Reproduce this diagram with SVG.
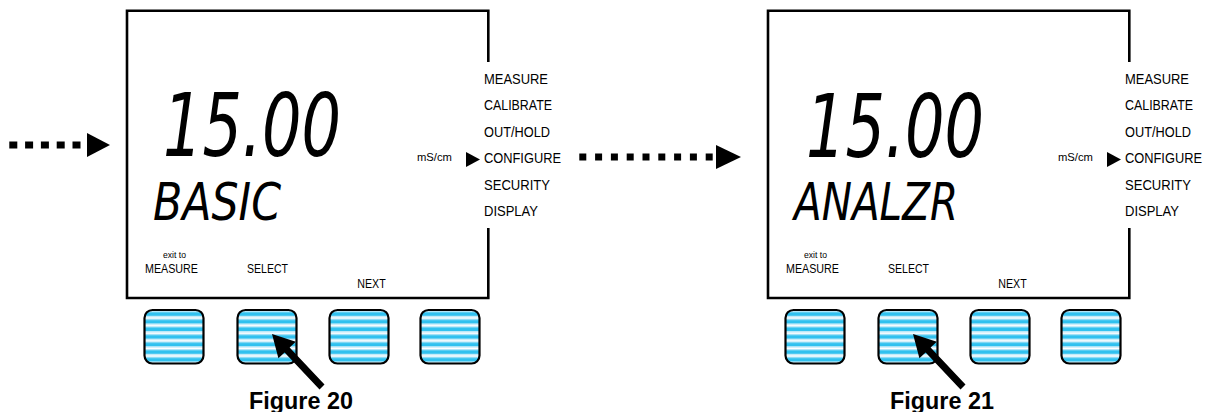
<svg xmlns="http://www.w3.org/2000/svg" width="1206" height="412" viewBox="0 0 1206 412">
  <style>
    .frame { fill: none; stroke: #000; stroke-width: 2.6; }
    .label { font-family: "Liberation Sans", Arial, sans-serif; fill: #000; }
    .menu { font-size: 15px; }
    .key { font-size: 13px; }
    .tiny { font-size: 9px; }
    .unit { font-size: 11px; }
    .lcd { font-family: "DejaVu Sans", "Liberation Sans", sans-serif; font-style: italic; fill: #000; }
    .caption { font-family: "Liberation Sans", Arial, sans-serif; font-weight: bold; font-size: 23px; fill: #000; }
    .btn { fill: url(#stripes); stroke: #000; stroke-width: 2.2; }
    .dots { fill: none; stroke: #000; stroke-width: 7; }
  </style>
  <defs>
    <!-- horizontal blue/white banding for the soft keys -->
    <pattern id="stripes" patternUnits="userSpaceOnUse" x="0" y="311" width="10" height="7.6">
      <rect width="10" height="7.6" fill="#ffffff"/>
      <rect y="0" width="10" height="1.2" fill="#b5e6f8"/>
      <rect y="1.2" width="10" height="3.8" fill="#30c1ef"/>
      <rect y="5" width="10" height="1.2" fill="#b5e6f8"/>
    </pattern>
    <!-- pointer arrow aimed at the SELECT key -->
    <polygon id="pointer" points="272,334 295.8,341.8 289.6,347.6 324.5,384.6 319.5,389.4 284.6,352.4 278.4,358.2" fill="#000"/>
  </defs>

  <!-- connectors -->
  <g id="connectors">
    <path class="dots" d="M9.3,145 H81" stroke-dasharray="8 7.8"/>
    <polygon points="87,133 87,157 110,145" fill="#000"/>
    <path class="dots" d="M579.3,157 H717" stroke-dasharray="7 8.8"/>
    <polygon points="716,145 716,169 741,157" fill="#000"/>
  </g>

  <!-- Figure 20 display -->
  <g id="fig20">
    <path class="frame" d="M488.3,62 V10.7 H127 V298 H488.3 V228"/>
    <text class="lcd" x="163" y="156" font-size="88" textLength="178" lengthAdjust="spacingAndGlyphs">15.00</text>
    <text class="lcd" x="153" y="220" font-size="52" textLength="128" lengthAdjust="spacingAndGlyphs">BASIC</text>
    <text class="label unit" x="417" y="161" textLength="35" lengthAdjust="spacingAndGlyphs">mS/cm</text>
    <polygon points="466,152 466,167 480,159.5" fill="#000"/>
    <!-- condensed menu column -->
    <g class="label menu" transform="translate(484,0) scale(0.85,1)">
      <text x="0" y="84" textLength="75.3" lengthAdjust="spacingAndGlyphs">MEASURE</text>
      <text x="0" y="110.5" textLength="80" lengthAdjust="spacingAndGlyphs">CALIBRATE</text>
      <text x="0" y="137" textLength="77.6" lengthAdjust="spacingAndGlyphs">OUT/HOLD</text>
      <text x="0" y="163.5" textLength="90.6" lengthAdjust="spacingAndGlyphs">CONFIGURE</text>
      <text x="0" y="190" textLength="77.6" lengthAdjust="spacingAndGlyphs">SECURITY</text>
      <text x="0" y="216.5" textLength="63.5" lengthAdjust="spacingAndGlyphs">DISPLAY</text>
    </g>
    <text class="label tiny" x="163" y="257.5" textLength="23" lengthAdjust="spacingAndGlyphs">exit to</text>
    <text class="label key" x="145" y="272.7" textLength="53" lengthAdjust="spacingAndGlyphs">MEASURE</text>
    <text class="label key" x="247" y="272.7" textLength="41" lengthAdjust="spacingAndGlyphs">SELECT</text>
    <text class="label key" x="357.3" y="288.3" textLength="28.4" lengthAdjust="spacingAndGlyphs">NEXT</text>
    <rect class="btn" x="144.5" y="310" width="59" height="53.5" rx="8"/>
    <rect class="btn" x="237.5" y="310" width="59" height="53.5" rx="8"/>
    <rect class="btn" x="329.5" y="310" width="59" height="53.5" rx="8"/>
    <rect class="btn" x="420.5" y="310" width="59" height="53.5" rx="8"/>
    <use href="#pointer"/>
    <text class="caption" x="249" y="409" textLength="104" lengthAdjust="spacingAndGlyphs">Figure 20</text>
  </g>

  <!-- Figure 21 display -->
  <g id="fig21" transform="translate(641,0)">
    <path class="frame" d="M488.3,62 V10.7 H127 V298 H488.3 V228"/>
    <text class="lcd" x="165" y="157" font-size="88" textLength="178" lengthAdjust="spacingAndGlyphs">15.00</text>
    <text class="lcd" x="153" y="220" font-size="52" textLength="164" lengthAdjust="spacingAndGlyphs">ANALZR</text>
    <text class="label unit" x="417" y="161" textLength="35" lengthAdjust="spacingAndGlyphs">mS/cm</text>
    <polygon points="466,152 466,167 480,159.5" fill="#000"/>
    <!-- condensed menu column -->
    <g class="label menu" transform="translate(484,0) scale(0.85,1)">
      <text x="0" y="84" textLength="75.3" lengthAdjust="spacingAndGlyphs">MEASURE</text>
      <text x="0" y="110.5" textLength="80" lengthAdjust="spacingAndGlyphs">CALIBRATE</text>
      <text x="0" y="137" textLength="77.6" lengthAdjust="spacingAndGlyphs">OUT/HOLD</text>
      <text x="0" y="163.5" textLength="90.6" lengthAdjust="spacingAndGlyphs">CONFIGURE</text>
      <text x="0" y="190" textLength="77.6" lengthAdjust="spacingAndGlyphs">SECURITY</text>
      <text x="0" y="216.5" textLength="63.5" lengthAdjust="spacingAndGlyphs">DISPLAY</text>
    </g>
    <text class="label tiny" x="163" y="257.5" textLength="23" lengthAdjust="spacingAndGlyphs">exit to</text>
    <text class="label key" x="145" y="272.7" textLength="53" lengthAdjust="spacingAndGlyphs">MEASURE</text>
    <text class="label key" x="247" y="272.7" textLength="41" lengthAdjust="spacingAndGlyphs">SELECT</text>
    <text class="label key" x="357.3" y="288.3" textLength="28.4" lengthAdjust="spacingAndGlyphs">NEXT</text>
    <rect class="btn" x="144.5" y="310" width="59" height="53.5" rx="8"/>
    <rect class="btn" x="237.5" y="310" width="59" height="53.5" rx="8"/>
    <rect class="btn" x="329.5" y="310" width="59" height="53.5" rx="8"/>
    <rect class="btn" x="420.5" y="310" width="59" height="53.5" rx="8"/>
    <use href="#pointer"/>
    <text class="caption" x="249" y="409" textLength="104" lengthAdjust="spacingAndGlyphs">Figure 21</text>
  </g>
</svg>
